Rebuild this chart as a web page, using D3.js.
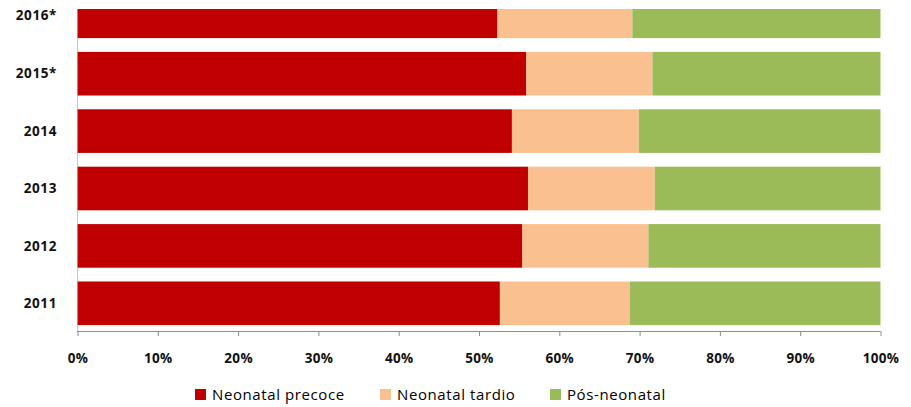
<!DOCTYPE html>
<html>
<head>
<meta charset="utf-8">
<script src="https://cdn.jsdelivr.net/npm/d3@7"></script>
<style>
  body { margin: 0; background: #fff; }
  svg text { font-family: "Open Sans", "DejaVu Sans", sans-serif; fill: #000; }
</style>
</head>
<body>
<svg id="chart" width="911" height="407"></svg>
<script>
// years top to bottom as in the picture
const years = ["2016*", "2015*", "2014", "2013", "2012", "2011"];
const seriesNames = ["Neonatal precoce", "Neonatal tardio", "Pós-neonatal"];
const seriesColors = ["#C00000", "#FAC090", "#9BBB59"];
// percent shares, one value per year
const precoce = [52.3, 55.9, 54.1, 56.1, 55.4, 52.6];
const tardio  = [16.8, 15.7, 15.8, 15.8, 15.7, 16.2];
const posNeo  = [30.9, 28.4, 30.1, 28.1, 28.9, 31.2];
const xTicks = [0, 10, 20, 30, 40, 50, 60, 70, 80, 90, 100];

const svg = d3.select("#chart");
const plotLeft = 77.5, plotRight = 880.5, plotBottom = 331, plotTop = 9;
const step = 57.4;

const x = d3.scaleLinear().domain([0, 100]).range([plotLeft, plotRight]);
const y = d3.scaleBand()
    .domain(years.slice().reverse())
    .range([plotBottom + 1, plotBottom + 1 - step * years.length])
    .paddingInner(0.24)
    .paddingOuter(0.12);

const rows = years.map((yr, i) => ({ year: yr, "Neonatal precoce": precoce[i], "Neonatal tardio": tardio[i], "Pós-neonatal": posNeo[i] }));
const stacked = d3.stack().keys(seriesNames)(rows);

svg.append("clipPath").attr("id", "plotClip")
  .append("rect")
    .attr("x", 0).attr("y", plotTop)
    .attr("width", 911).attr("height", plotBottom - plotTop + 10);

const bars = svg.append("g").attr("clip-path", "url(#plotClip)");
stacked.forEach((s, k) => {
  bars.append("g")
      .attr("fill", seriesColors[k])
    .selectAll("rect")
    .data(s)
    .join("rect")
      .attr("x", d => x(d[0]))
      .attr("y", d => y(d.data.year))
      .attr("width", d => x(d[1]) - x(d[0]))
      .attr("height", y.bandwidth());
});

// x axis
const xAxis = svg.append("g")
    .attr("transform", `translate(0,${plotBottom})`)
    .call(d3.axisBottom(x).tickValues(xTicks).tickFormat(d => d + "%").tickSize(5).tickSizeOuter(0));
xAxis.select(".domain").attr("stroke", "#8c8c8c").attr("d", `M${plotLeft - 0.5},0.5H${plotRight}`);
xAxis.selectAll(".tick line").attr("stroke", "#8c8c8c");
xAxis.selectAll(".tick text")
    .attr("y", 22)
    .style("font-size", "13.5px")
    .style("font-weight", "bold")
    .style("letter-spacing", "0.3px")
    .style("fill", "#111");

// y axis
const yAxis = svg.append("g")
    .attr("clip-path", "url(#plotClip)")
    .attr("transform", `translate(${plotLeft - 0.5},0)`);
yAxis.append("line")
    .attr("x1", 0).attr("x2", 0)
    .attr("y1", plotTop).attr("y2", plotBottom)
    .attr("stroke", "#8c8c8c");
const boundaries = years.map(yr => y(yr) - (y.step() - y.bandwidth()) / 2);
yAxis.selectAll(".ytick")
  .data(boundaries)
  .join("line")
    .attr("x1", -5).attr("x2", 0)
    .attr("y1", d => Math.round(d) + 0.5).attr("y2", d => Math.round(d) + 0.5)
    .attr("stroke", "#8c8c8c");

svg.append("g").selectAll("text")
  .data(years)
  .join("text")
    .attr("x", 57)
    .attr("y", d => d === years[0] ? 15 : y(d) + y.bandwidth() / 2)
    .attr("dy", "0.35em")
    .attr("text-anchor", "end")
    .style("font-size", "13.5px")
    .style("font-weight", "bold")
    .style("letter-spacing", "0.6px")
    .style("fill", "#111")
    .text(d => d);

// legend
const legendX = [195, 380, 550];
const legend = svg.append("g").selectAll("g")
  .data(seriesNames)
  .join("g")
    .attr("transform", (d, i) => `translate(${legendX[i]},389)`);
legend.append("rect")
    .attr("width", 11).attr("height", 11)
    .attr("fill", (d, i) => seriesColors[i]);
legend.append("text")
    .attr("x", 17).attr("y", 6)
    .attr("dy", "0.35em")
    .style("font-size", "15px")
    .style("letter-spacing", "0.6px")
    .style("font-weight", 500)
    .text(d => d);
</script>
</body>
</html>
